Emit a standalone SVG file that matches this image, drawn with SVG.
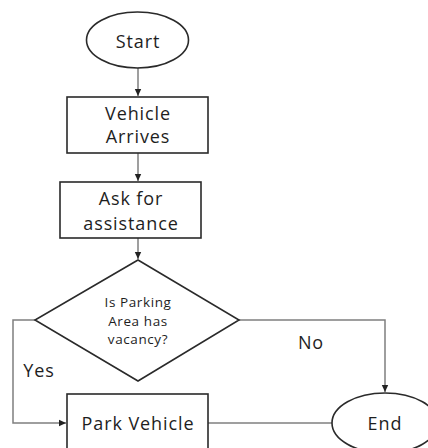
<svg xmlns="http://www.w3.org/2000/svg" width="428" height="448" viewBox="0 0 428 448">
<style>
.shape{fill:#fff;stroke:#2a2a2a;stroke-width:1.6}
.conn{fill:none;stroke:#7f7f7f;stroke-width:1.5}
.t{font-family:"Open Sans","Liberation Sans",sans-serif;font-size:18px;fill:#1e1e1e;text-anchor:middle;letter-spacing:0.9px}
.s{font-size:13.5px;letter-spacing:0.6px}
</style>
<defs>
<marker id="ah" markerWidth="8" markerHeight="8" refX="7" refY="4" orient="auto" markerUnits="userSpaceOnUse">
<path d="M0,0.8 L7,4 L0,7.2 Z" fill="#222"/>
</marker>
</defs>
<rect width="428" height="448" fill="#fff"/>
<g id="connectors">
<line class="conn" x1="138" y1="68" x2="138" y2="96" marker-end="url(#ah)"/>
<line class="conn" x1="138" y1="153" x2="138" y2="181" marker-end="url(#ah)"/>
<line class="conn" x1="138" y1="238" x2="138" y2="259" marker-end="url(#ah)"/>
<polyline class="conn" points="35,320 13,320 13,423 66,423" marker-end="url(#ah)"/>
<polyline class="conn" points="239,320 385,320 385,392" marker-end="url(#ah)"/>
<line class="conn" x1="208" y1="423" x2="332" y2="423"/>
</g>
<g id="start">
<ellipse class="shape" cx="137.5" cy="40" rx="51" ry="28"/>
<text class="t" x="138" y="48">Start</text>
</g>
<g id="vehicle-arrives">
<rect class="shape" x="67" y="97" width="141" height="56"/>
<text class="t" x="138" y="120">Vehicle</text>
<text class="t" x="138" y="143">Arrives</text>
</g>
<g id="ask-assistance">
<rect class="shape" x="60" y="182" width="141" height="56"/>
<text class="t" x="131" y="205">Ask for</text>
<text class="t" x="131" y="230">assistance</text>
</g>
<g id="decision">
<polygon class="shape" points="138,260 239,320 138,381 35,320"/>
<text class="t s" x="138" y="307">Is Parking</text>
<text class="t s" x="138" y="325.5">Area has</text>
<text class="t s" x="138" y="344">vacancy?</text>
</g>
<g id="park-vehicle">
<rect class="shape" x="67" y="394" width="141" height="70"/>
<text class="t" x="138" y="430">Park Vehicle</text>
</g>
<g id="end">
<ellipse class="shape" cx="385" cy="423" rx="53" ry="30"/>
<text class="t" x="385" y="430">End</text>
</g>
<g id="labels">
<text class="t" x="39" y="377">Yes</text>
<text class="t" x="311" y="349">No</text>
</g>
</svg>
